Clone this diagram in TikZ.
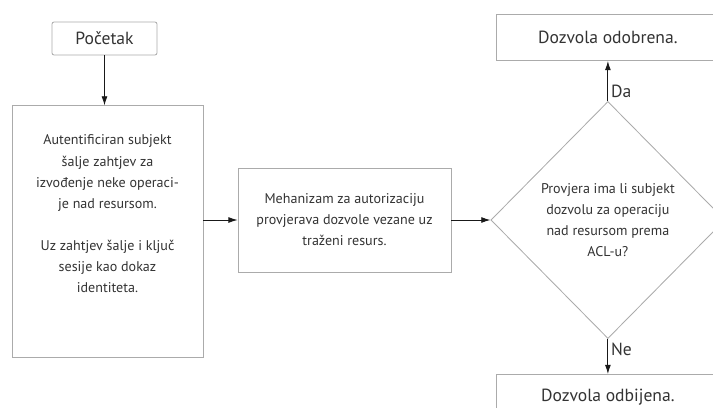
\documentclass[tikz,border=0pt]{standalone}
\usepackage{fontspec}
\setmainfont{PT Sans}
\usetikzlibrary{arrows.meta, positioning, shapes.geometric}
\definecolor{boxline}{HTML}{ABABAB}
\definecolor{boxtext}{HTML}{333333}

\begin{document}
\begin{tikzpicture}[x=0.025cm, y=-0.025cm,
    box/.style={draw=boxline, line width=0.6pt, text=boxtext, align=center, font=\fontsize{10}{15}\selectfont},
    endbox/.style={box, font=\fontsize{12.5}{15}\selectfont, minimum width=5.55cm, minimum height=1.15cm},
    flow/.style={draw=black!90, line width=0.6pt, -{Latex[length=6.5pt, width=4.2pt]}}]

% picture is 713 x 408 px, 1px = 0.025cm
\clip (0,0) rectangle (713,408);

\node [box, rounded corners=1.5pt, minimum width=2.625cm, minimum height=0.825cm, font=\fontsize{12.5}{15}\selectfont] (start) at (104.5,38.5) {Početak};
\node [box, below=1.25cm of start, xshift=0.075cm, minimum width=4.775cm, minimum height=6.275cm] (req) {Autentificiran subjekt\\ šalje zahtjev za\\ izvođenje neke operaci-\\ je nad resursom.\\[15pt] Uz zahtjev šalje i ključ\\ sesije kao dokaz\\ identiteta.\\[10pt]\mbox{}};
\node [box, minimum width=5.325cm, minimum height=2.6cm] (auth) at (344.5,220) {Mehanizam za autorizaciju\\ provjerava dozvole vezane uz\\ traženi resurs.};
\node [box, diamond, inner sep=0pt, minimum width=5.85cm, minimum height=5.925cm, right=0.975cm of auth] (check) {Provjera ima li subjekt\\ dozvolu za operaciju\\ nad resursom prema\\ ACL-u?};
\node [endbox, above=1cm of check] (yes) {Dozvola odobrena.};
\node [endbox, below=0.875cm of check] (no) {Dozvola odbijena.};

\path [flow] (start) -- (start |- req.north);
\path [flow] (req.east |- auth) -- (auth);
\path [flow] (auth) -- (check);
\path [flow] (check) -- node [right, pos=0.25, inner sep=2pt, text=boxtext, font=\fontsize{12.5}{15}\selectfont] (da) {Da} (yes);
\path [flow] (check) -- node [right, pos=0.3, inner sep=2pt, text=boxtext, font=\fontsize{12.5}{15}\selectfont] (ne) {Ne} (no);

\end{tikzpicture}
\end{document}
